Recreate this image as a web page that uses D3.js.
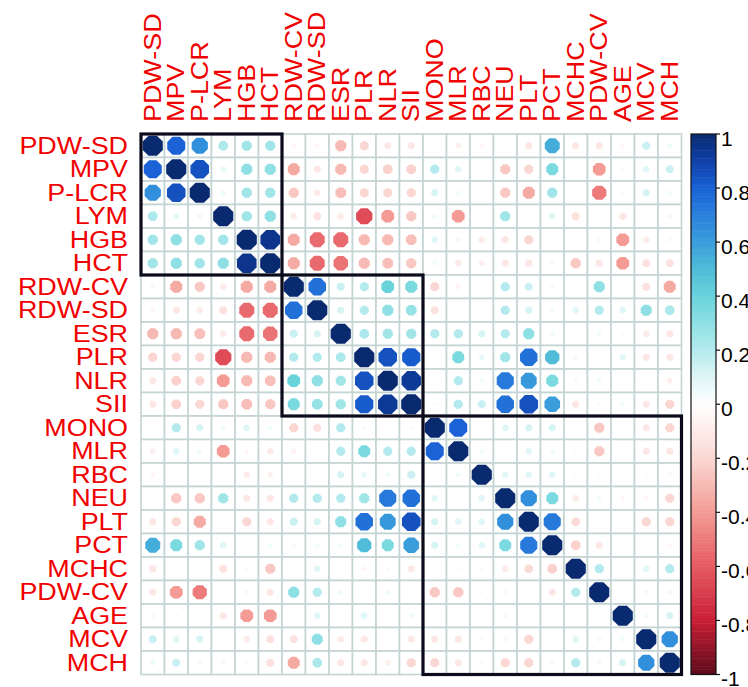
<!DOCTYPE html>
<html>
<head>
<meta charset="utf-8">
<script src="https://cdn.jsdelivr.net/npm/d3@7"></script>
<style>
  body { margin: 0; background: #fff; }
  text { font-family: "Liberation Sans", Arial, sans-serif; }
</style>
</head>
<body>
<svg id="chart" width="748" height="687"></svg>
<script>
// variable order (hclust)
const vars = ["PDW-SD","MPV","P-LCR","LYM","HGB","HCT","RDW-CV","RDW-SD","ESR","PLR","NLR","SII",
  "MONO","MLR","RBC","NEU","PLT","PCT","MCHC","PDW-CV","AGE","MCV","MCH"];

// upper triangle, row by row (values for columns to the right of the diagonal)
const rowPDWSD = [0.8,0.65,0.22,0.25,0.25,-0.05,-0.05,-0.3,-0.2,-0.12,-0.12,0.02,-0.08,-0.05,0.02,-0.12,0.55,-0.12,-0.12,-0.05,0.15,0.06];
const rowMPV   = [0.85,0.08,0.3,0.3,-0.35,-0.12,-0.3,-0.2,-0.22,-0.22,0.2,0.1,0.02,-0.25,-0.2,0.35,0.02,-0.4,-0.04,0.1,0.15];
const rowPLCR  = [0.06,0.25,0.25,-0.25,-0.1,-0.28,-0.2,-0.2,-0.2,0.12,0.05,0.02,-0.25,-0.35,0.25,0.02,-0.5,-0.03,0.12,0.05];
const rowLYM   = [0.25,0.3,-0.1,-0.15,-0.1,-0.65,-0.4,-0.25,0.05,-0.4,0.02,0.25,0.02,0.1,-0.15,0.02,-0.12,0.02,-0.05];
const rowHGB   = [0.95,-0.35,-0.55,-0.55,-0.3,-0.3,-0.28,0.1,-0.05,-0.1,-0.12,-0.2,0.02,0.03,-0.05,-0.4,-0.1,-0.04];
const rowHCT   = [-0.35,-0.55,-0.52,-0.3,-0.28,-0.25,0.05,-0.1,-0.08,-0.12,-0.12,0.05,-0.25,-0.12,-0.4,-0.15,-0.15];
const rowRDWCV = [0.75,0.15,0.2,0.4,0.35,-0.2,-0.06,0.02,0.2,0.15,0.04,0.02,0.3,0.02,-0.15,-0.35];
const rowRDWSD = [0.12,0.2,0.3,0.28,-0.15,0.02,0.02,0.2,0.12,0.05,0.1,0.2,0.1,0.3,0.22];
const rowESR   = [0.22,0.25,0.25,0.2,0.2,0.12,0.2,0.3,0.05,0.02,0.05,0.03,-0.1,-0.12];
const rowPLR   = [0.85,0.82,0.03,0.35,0.08,0.25,0.75,0.5,-0.05,0.02,0.1,-0.12,-0.12];
const rowNLR   = [0.93,0.02,0.2,0.05,0.72,0.62,0.35,-0.04,0.05,0.02,0.02,-0.08];
const rowSII   = [0.03,0.2,0.15,0.75,0.85,0.6,-0.12,0.03,0.05,-0.12,-0.2];
const rowMONO  = [0.8,0.02,0.1,0.12,0.12,0.02,-0.25,0.02,-0.12,-0.2];
const rowMLR   = [0.05,0.02,0.1,0.05,0.03,-0.25,0.01,-0.12,-0.12];
const rowRBC   = [0.1,0.1,0.1,-0.03,-0.03,0.01,-0.03,-0.04];
const rowNEU   = [0.65,0.35,-0.1,0.05,-0.05,-0.05,-0.2];
const rowPLT   = [0.72,-0.18,0.02,0.01,-0.2,-0.2];
const rowPCT   = [-0.22,-0.12,0.01,0.01,-0.05];
const rowMCHC  = [0.2,0.02,0.1,0.2];
const rowPDWCV = [0.01,-0.05,-0.05];
const rowAGE   = [0.05,0.12];
const rowMCV   = [0.65];
const upperRows = [rowPDWSD,rowMPV,rowPLCR,rowLYM,rowHGB,rowHCT,rowRDWCV,rowRDWSD,rowESR,rowPLR,
  rowNLR,rowSII,rowMONO,rowMLR,rowRBC,rowNEU,rowPLT,rowPCT,rowMCHC,rowPDWCV,rowAGE,rowMCV];

// hclust rectangles (number of variables in each cluster)
const clusterSizes = [6, 6, 11];

// colour legend
const barTicks = [1,0.8,0.6,0.4,0.2,0,-0.2,-0.4,-0.6,-0.8,-1];
const barLabels = ["1","0.8","0.6","0.4","0.2","0","-0.2","-0.4","-0.6","-0.8","-1"];

const svg = d3.select("#chart");
const cell = 23.5, x0 = 141, y0 = 134, n = vars.length;

const x = d3.scaleBand().domain(vars).range([x0, x0 + cell * n]);
const y = d3.scaleBand().domain(vars).range([y0, y0 + cell * n]);

const color = d3.scaleLinear()
  .domain([-1,-0.8,-0.6,-0.4,-0.2,0,0.1,0.2,0.3,0.4,0.5,0.6,0.7,0.8,0.9,1])
  .range(["#5c0a1c","#c81e35","#e65a62","#f39b94","#fbd7d3","#ffffff",
          "#e0f6f7","#b4eaee","#8ee0e4","#68d3db","#50bcd8","#3a9edc","#2a80dc","#1a62d6","#0f40a8","#0a2a70"]);
const size = d3.scaleSqrt().domain([0, 1]).range([0, 10.9]);

const value = (i, j) => i === j ? 1 : (i < j ? upperRows[i][j - i - 1] : upperRows[j][i - j - 1]);

const cells = [];
vars.forEach((a, i) => vars.forEach((b, j) => cells.push({row: a, col: b, v: value(i, j)})));

// grid
svg.append("g")
  .selectAll("rect")
  .data(cells)
  .join("rect")
  .attr("x", d => x(d.col))
  .attr("y", d => y(d.row))
  .attr("width", x.bandwidth())
  .attr("height", y.bandwidth())
  .attr("fill", "#fff")
  .attr("stroke", "#c4d4d3")
  .attr("stroke-width", 1.6);

// octagon markers
const octagon = r => d3.line().curve(d3.curveLinearClosed)(
  d3.range(8).map(k => {
    const a = Math.PI / 8 + k * Math.PI / 4;
    return [r * Math.cos(a), r * Math.sin(a)];
  }));

svg.append("g")
  .selectAll("path")
  .data(cells)
  .join("path")
  .attr("transform", d => "translate(" + (x(d.col) + x.bandwidth() / 2) + "," + (y(d.row) + y.bandwidth() / 2) + ")")
  .attr("d", d => octagon(size(Math.abs(d.v))))
  .attr("fill", d => color(d.v));

// cluster boxes
let start = 0;
const boxes = clusterSizes.map(s => { const b = {from: vars[start], k: s}; start += s; return b; });
svg.append("g")
  .selectAll("rect")
  .data(boxes)
  .join("rect")
  .attr("x", d => x(d.from))
  .attr("y", d => y(d.from))
  .attr("width", d => d.k * x.step())
  .attr("height", d => d.k * y.step())
  .attr("fill", "none")
  .attr("stroke", "#0b0b1c")
  .attr("stroke-width", 3.2);

// row labels
svg.append("g")
  .selectAll("text")
  .data(vars)
  .join("text")
  .attr("transform", d => "translate(128," + (y(d) + y.bandwidth() / 2 + 8) + ") scale(1.17,1)")
  .attr("text-anchor", "end")
  .attr("font-size", 23)
  .attr("fill", "#f00000")
  .text(d => d);

// column labels
svg.append("g")
  .selectAll("text")
  .data(vars)
  .join("text")
  .attr("transform", d => "translate(" + (x(d) + x.bandwidth() / 2 + 8) + ",122) rotate(-90) scale(1.17,1)")
  .attr("text-anchor", "start")
  .attr("font-size", 23)
  .attr("fill", "#f00000")
  .text(d => d);

// colour bar
const yBar = d3.scaleLinear().domain([-1, 1]).range([y0 + cell * n, y0]);
const barX = 691, barW = 25, step = 0.01;
const bar = svg.append("g");
bar.selectAll("rect")
  .data(d3.range(-1, 1, step))
  .join("rect")
  .attr("x", barX)
  .attr("y", d => yBar(d + step))
  .attr("width", barW)
  .attr("height", d => yBar(d) - yBar(d + step) + 0.5)
  .attr("fill", d => color(d + step / 2));
bar.append("rect")
  .attr("x", barX).attr("y", yBar(1))
  .attr("width", barW).attr("height", yBar(-1) - yBar(1))
  .attr("fill", "none").attr("stroke", "#111").attr("stroke-width", 1.2);
bar.selectAll("line")
  .data(barTicks)
  .join("line")
  .attr("x1", barX + barW).attr("x2", barX + barW + 4)
  .attr("y1", d => yBar(d)).attr("y2", d => yBar(d))
  .attr("stroke", "#111").attr("stroke-width", 1.2);
bar.selectAll("text")
  .data(barTicks)
  .join("text")
  .attr("x", barX + barW + 5)
  .attr("y", d => yBar(d) + 4)
  .attr("dominant-baseline", "central")
  .attr("font-size", 21)
  .attr("fill", "#000")
  .text((d, i) => barLabels[i]);
</script>
</body>
</html>
